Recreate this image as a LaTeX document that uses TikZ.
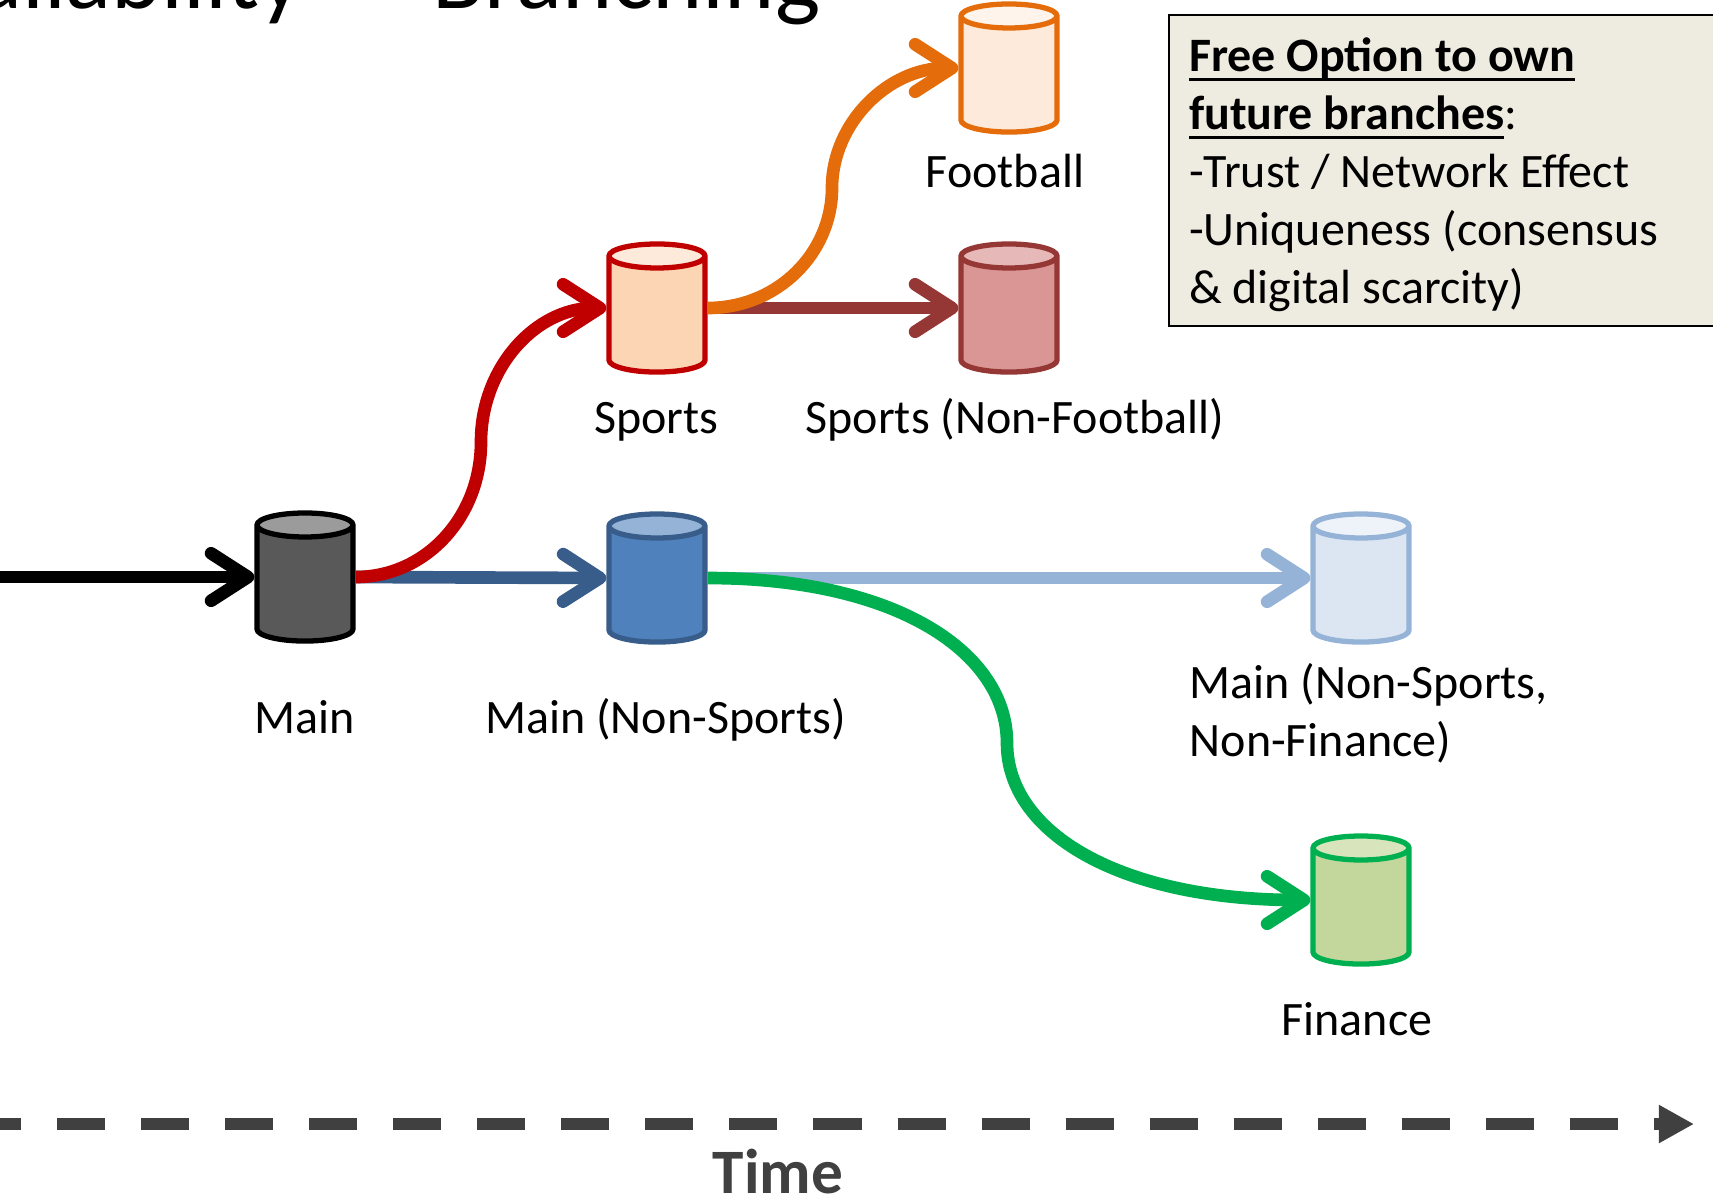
\documentclass[tikz,border=0pt]{standalone}
\usepackage{fontspec}
\setmainfont{Carlito}
\usetikzlibrary{arrows.meta, shapes.geometric}
\definecolor{mainfill}{HTML}{595959}
\definecolor{maintop}{HTML}{9B9B9B}
\definecolor{bluefill}{HTML}{4F81BD}
\definecolor{bluetop}{HTML}{95B3D7}
\definecolor{blueline}{HTML}{385D8A}
\definecolor{sportsfill}{HTML}{FCD5B5}
\definecolor{sportstop}{HTML}{FDEADA}
\definecolor{redline}{HTML}{C00000}
\definecolor{footfill}{HTML}{FDEADA}
\definecolor{foottop}{HTML}{FEF4EC}
\definecolor{orangeline}{HTML}{E46C0A}
\definecolor{otherfill}{HTML}{D99694}
\definecolor{othertop}{HTML}{E6B9B8}
\definecolor{brownline}{HTML}{953735}
\definecolor{restfill}{HTML}{DCE6F2}
\definecolor{resttop}{HTML}{EEF3FA}
\definecolor{financefill}{HTML}{C3D69B}
\definecolor{financetop}{HTML}{D8E4BC}
\definecolor{greenline}{HTML}{00B050}
\definecolor{boxfill}{HTML}{EEECE1}
\definecolor{timegray}{HTML}{404040}
\newcommand{\rulebold}[1]{\leavevmode\setbox0\hbox{\bfseries #1}\rlap{\rule[-2.8pt]{\wd0}{0.9pt}}\box0}
\tikzset{
  branchdb/.style n args = {3}{shape = cylinder, shape border rotate = 90, shape aspect = 1.2,
    minimum width = 0.96cm, minimum height = 1.28cm, inner sep = 0.1cm, line width = 1.5pt, anchor = shape center,
    draw = #1, cylinder uses custom fill, cylinder body fill = #2, cylinder end fill = #3},
  branch/.style = {line width = 3.6pt, -{Straight Barb[length = 10.5pt, width = 13.5pt, round]}},
  tag/.style = {anchor = base, font = \fontsize{13.65}{16.5}\selectfont}
}
\begin{document}
\begin{tikzpicture}[x = 0.01cm, y = -0.01cm]
  \useasboundingbox (0, 0) rectangle (1713, 1199);
  \clip (0, 0) rectangle (1713, 1199);
  \node (titleleft) at (304, 8) [anchor = base east, inner sep = 0pt, font = \fontsize{27.2}{30}\selectfont] {ailability};
  \node (titleright) at (432, 8) [anchor = base west, inner sep = 0pt, font = \fontsize{27.2}{30}\selectfont] {Branching};

  \node (main) at (305, 577) [branchdb = {black}{mainfill}{maintop}] {};
  \node (nonsports) at (657, 578) [branchdb = {blueline}{bluefill}{bluetop}] {};
  \node (sports) at (657, 308) [branchdb = {redline}{sportsfill}{sportstop}] {};
  \node (football) at (1009, 68) [branchdb = {orangeline}{footfill}{foottop}] {};
  \node (nonfootball) at (1009, 308) [branchdb = {brownline}{otherfill}{othertop}] {};
  \node (rest) at (1361, 578) [branchdb = {bluetop}{restfill}{resttop}] {};
  \node (finance) at (1361, 900) [branchdb = {greenline}{financefill}{financetop}] {};

  \coordinate (start) at (0, 577);
  \coordinate (mainin) at (main.west |- main.shape center);
  \coordinate (mainout) at (main.east |- main.shape center);
  \coordinate (nonsportsin) at (nonsports.west |- nonsports.shape center);
  \coordinate (nonsportsout) at (nonsports.east |- nonsports.shape center);
  \coordinate (sportsin) at (sports.west |- sports.shape center);
  \coordinate (sportsout) at (sports.east |- sports.shape center);
  \coordinate (footballin) at (football.west |- football.shape center);
  \coordinate (nonfootballin) at (nonfootball.west |- nonfootball.shape center);
  \coordinate (restin) at (rest.west |- rest.shape center);
  \coordinate (financein) at (finance.west |- finance.shape center);
  \coordinate (redmid) at (481, 442);
  \coordinate (orangemid) at (832, 188);
  \coordinate (greenmid) at (1007, 743);
  \draw [branch, black] (start) -- (mainin);
  \draw [branch, blueline] (mainout) -- (nonsportsin);
  \draw [branch, redline] (mainout) .. controls +(70, 0) and +(0, 75) .. (redmid) .. controls +(0, -75) and +(-70, 0) .. (sportsin);
  \draw [branch, brownline] (sportsout) -- (nonfootballin);
  \draw [branch, orangeline] (sportsout) .. controls +(70, 0) and +(0, 65) .. (orangemid) .. controls +(0, -65) and +(-70, 0) .. (footballin);
  \draw [branch, bluetop] (nonsportsout) -- (restin);
  \draw [branch, greenline] (nonsportsout) .. controls +(190, 0) and +(0, -90) .. (greenmid) .. controls +(0, 90) and +(-190, 0) .. (financein);

  \node (mainlabel) at (304.5, 733) [tag] {Main};
  \node (nonsportslabel) at (665.5, 733) [tag] {Main (Non-Sports)};
  \node (sportslabel) at (656.5, 433) [tag] {Sports};
  \node (nonfootballlabel) at (1015, 433) [tag] {Sports (Non-Football)};
  \node (footballlabel) at (1005, 187) [tag] {Football};
  \node (financelabel) at (1357, 1035) [tag] {Finance};
  \node (restlabel) at (1189, 756) [tag, anchor = base west, align = flush left, inner sep = 0pt] {Main (Non-Sports,\\Non-Finance)};

  \node (note) at (1168, 14) [anchor = north west, draw = black, line width = 0.6pt, fill = boxfill,
    minimum width = 5.6cm, minimum height = 3.11cm, inner xsep = 0.19cm, text width = 5.2cm, align = flush left,
    font = \fontsize{13.65}{16.5}\selectfont] {\leavevmode\rule{0pt}{12pt}\rulebold{Free Option to own}\\\rulebold{future branches}:\\-Trust / Network Effect\\-Uniqueness (consensus\\\& digital scarcity)};

  \coordinate (timestart) at (0, 1124);
  \coordinate (timeend) at (1694, 1124);
  \draw [-{Triangle[length = 10pt, width = 10.2pt]}, timegray, line width = 3.4pt, dash pattern = on 0.48cm off 0.36cm, dash phase = 0.27cm] (timestart) -- (timeend);
  \node (timelabel) at (778, 1193) [anchor = base, text = timegray, font = \fontsize{18}{22}\selectfont\bfseries] {Time};
\end{tikzpicture}
\end{document}
